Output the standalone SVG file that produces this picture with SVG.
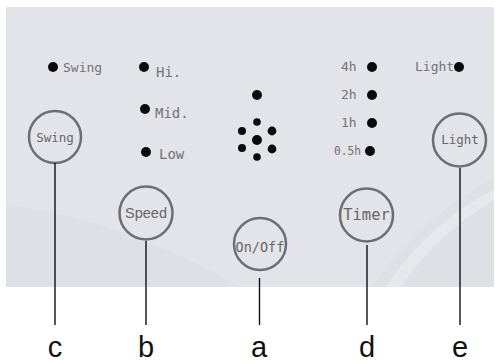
<svg xmlns="http://www.w3.org/2000/svg" width="497" height="364" viewBox="0 0 497 364">
<defs>
<style>
.btn{fill:none;stroke:#6e6e72;stroke-width:2.5}
.bt{font-family:"DejaVu Sans Mono",monospace;fill:#66666a;text-anchor:middle}
.lb{font-family:"DejaVu Sans Mono",monospace;fill:#727278}
.dot{fill:#0a0a0a}
.ln{stroke:#111;stroke-width:1.4;fill:none}
.let{font-family:"Liberation Sans",Arial,sans-serif;font-size:29px;fill:#111;text-anchor:middle}
</style>
</defs>
<rect width="497" height="364" fill="#ffffff"/>
<g id="panel">
<rect x="6" y="7" width="488" height="280" fill="#e3e4e9"/>
<path d="M6 205 Q120 218 240 287 L6 287 Z" fill="#dedfe7"/>
<path d="M494 178 Q420 218 372 287 L494 287 Z" fill="#dfe0e6"/>
<path d="M385 287 Q432 220 494 190 L494 200 Q442 230 400 287 Z" fill="#e7e8ec"/>
</g>
<g id="indicators">
<circle class="dot" cx="53" cy="67" r="5"/>
<text class="lb" x="63" y="72" font-size="13">Swing</text>
<circle class="dot" cx="144" cy="67" r="5"/>
<text class="lb" x="156" y="77" font-size="14">Hi.</text>
<circle class="dot" cx="145" cy="109" r="5"/>
<text class="lb" x="155" y="118" font-size="14">Mid.</text>
<circle class="dot" cx="146" cy="152" r="5"/>
<text class="lb" x="159" y="159" font-size="14">Low</text>
<circle class="dot" cx="372" cy="67" r="5"/>
<text class="lb" x="341" y="71" font-size="13">4h</text>
<circle class="dot" cx="372" cy="95" r="5"/>
<text class="lb" x="341" y="99" font-size="13">2h</text>
<circle class="dot" cx="372" cy="123" r="5"/>
<text class="lb" x="341" y="127" font-size="13">1h</text>
<circle class="dot" cx="370" cy="151" r="5"/>
<text class="lb" x="334" y="155" font-size="13" textLength="27" lengthAdjust="spacingAndGlyphs">0.5h</text>
<circle class="dot" cx="459" cy="67" r="5"/>
<text class="lb" x="415" y="71" font-size="13">Light</text>
</g>
<g id="vents">
<circle class="dot" cx="257" cy="95" r="5"/>
<circle class="dot" cx="257" cy="122" r="3.8"/>
<circle class="dot" cx="242" cy="131" r="4"/>
<circle class="dot" cx="272" cy="131" r="4.4"/>
<circle class="dot" cx="257" cy="140" r="5"/>
<circle class="dot" cx="242" cy="148" r="4"/>
<circle class="dot" cx="272" cy="149" r="4.4"/>
<circle class="dot" cx="257" cy="157" r="3.8"/>
</g>
<g id="btn-swing">
<circle class="btn" cx="55" cy="137" r="26"/>
<text class="bt" x="55" y="142" font-size="12.5">Swing</text>
</g>
<g id="btn-speed">
<circle class="btn" cx="146" cy="213" r="26.5"/>
<text x="146" y="218" font-size="14.5" fill="#66666a" text-anchor="middle" font-family="Liberation Sans, Arial, sans-serif">Speed</text>
</g>
<g id="btn-onoff">
<circle class="btn" cx="260" cy="244" r="26"/>
<text class="bt" x="260" y="252" font-size="13.5">On/Off</text>
</g>
<g id="btn-timer">
<circle class="btn" cx="366.5" cy="215" r="26.5"/>
<text class="bt" x="366.5" y="220" font-size="15.5">Timer</text>
</g>
<g id="btn-light">
<circle class="btn" cx="459.5" cy="140" r="26.5"/>
<text class="bt" x="460" y="144" font-size="12.5">Light</text>
</g>
<g id="connectors">
<line class="ln" x1="55" y1="163" x2="55" y2="325"/>
<line class="ln" x1="146" y1="241" x2="146" y2="325"/>
<line class="ln" x1="259.5" y1="278" x2="259.5" y2="325"/>
<line class="ln" x1="367" y1="245" x2="367" y2="325"/>
<line class="ln" x1="460" y1="168" x2="460" y2="325"/>
</g>
<g id="letters">
<text class="let" x="55" y="357">c</text>
<text class="let" x="146" y="357">b</text>
<text class="let" x="259" y="357">a</text>
<text class="let" x="367" y="357">d</text>
<text class="let" x="460" y="357">e</text>
</g>
</svg>
